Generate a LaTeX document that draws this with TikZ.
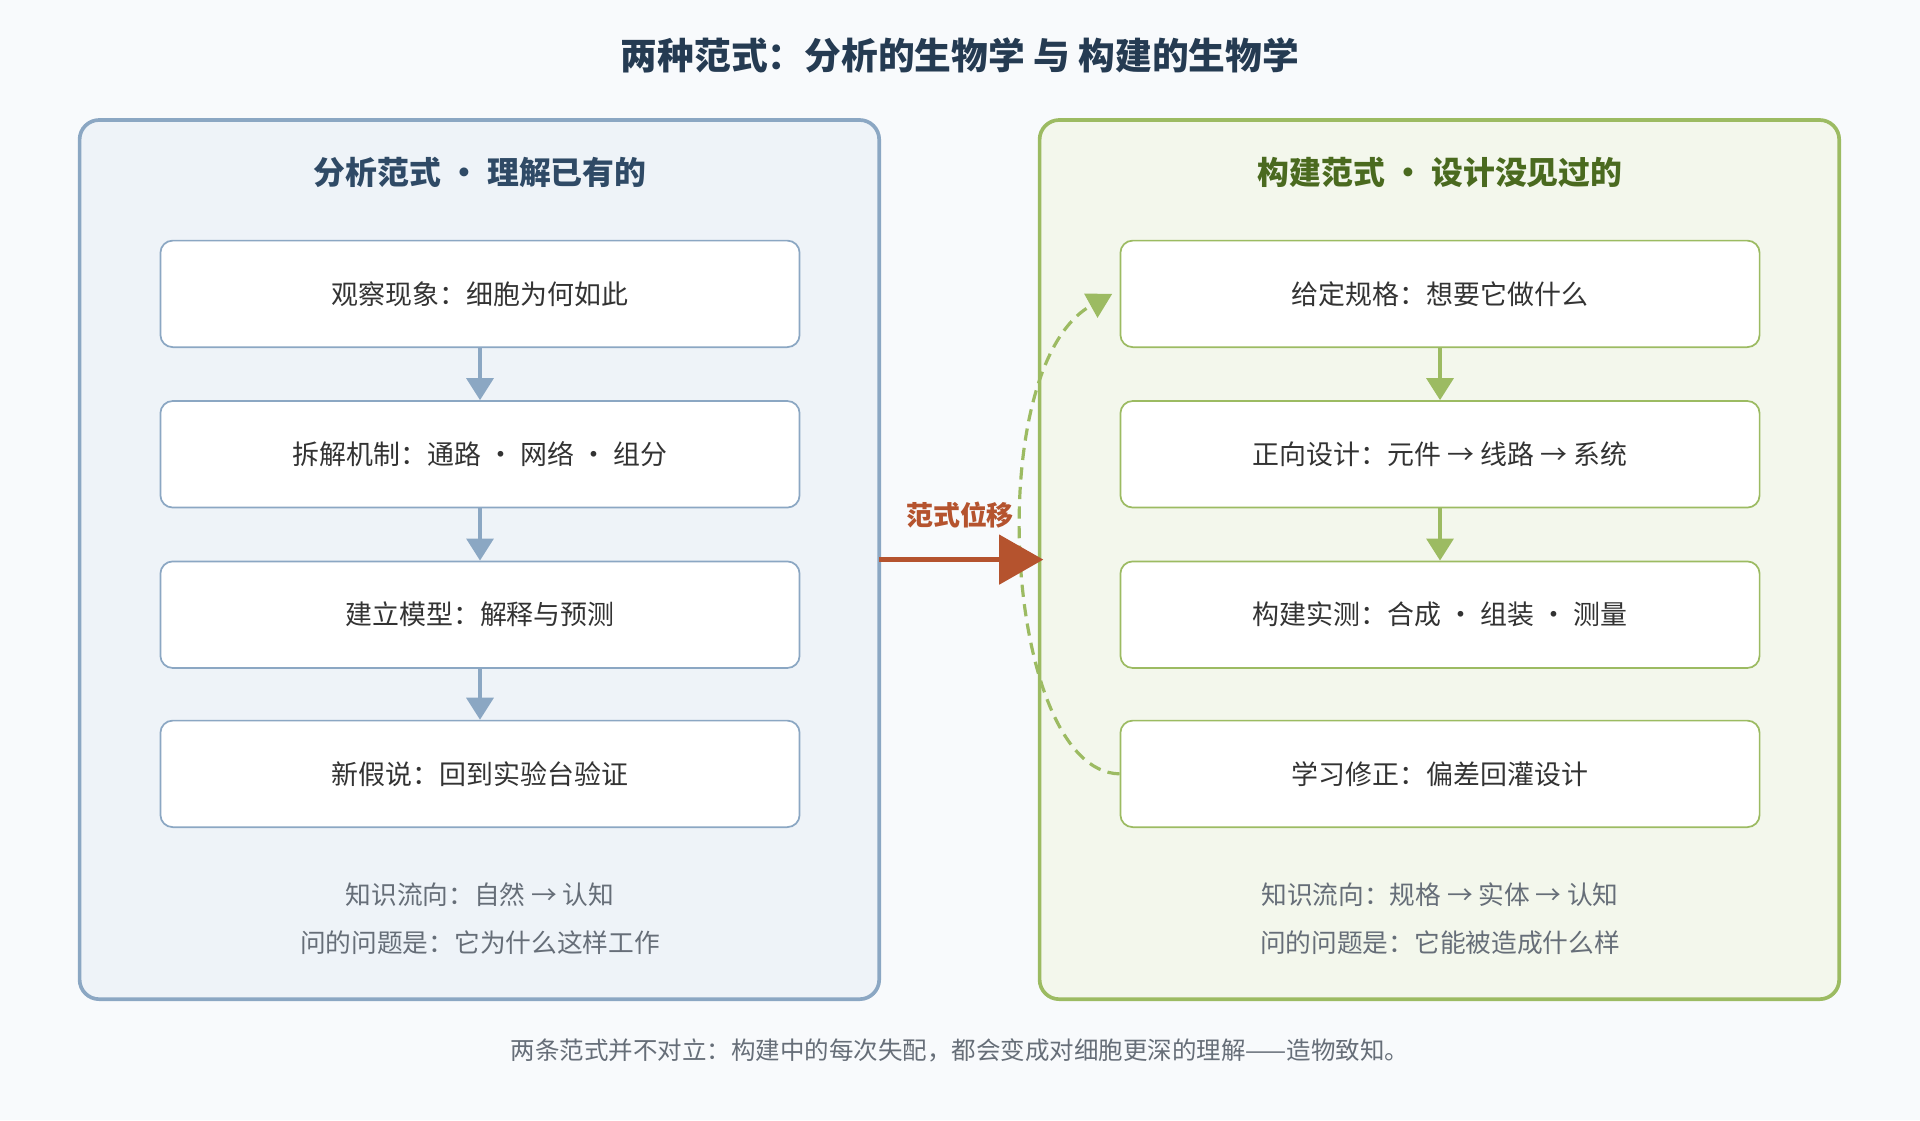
\documentclass[tikz,border=0pt]{standalone}
\usepackage{fontspec}
\setmainfont{Noto Sans CJK SC}
\usetikzlibrary{positioning,arrows.meta}
\definecolor{bluebd}{HTML}{8BA7C3}
\definecolor{bluebg}{HTML}{EEF3F8}
\definecolor{bluetx}{HTML}{2F4A66}
\definecolor{greenbd}{HTML}{9CBB62}
\definecolor{greenbg}{HTML}{F3F7EC}
\definecolor{greentx}{HTML}{4A6A1F}
\definecolor{shiftcol}{HTML}{B5532E}
\definecolor{graytx}{HTML}{666E78}
\definecolor{pagebg}{HTML}{F8FAFC}
\tikzset{font=\fontsize{11pt}{13pt}\selectfont}

\begin{document}
\begin{tikzpicture}[x=0.5pt,y=-0.5pt]
	\tikzstyle{panel}=[rounded corners=8pt, line width=1.5pt]
	\tikzstyle{stage}=[draw, fill=white, rounded corners=5pt, line width=0.7pt, minimum width=261pt, minimum height=43.5pt, text=black!80]
	\tikzstyle{note}=[text=graytx, font=\fontsize{10.5pt}{12pt}\selectfont]
	\fill[pagebg] (0,0) rectangle (1568,915);
	\useasboundingbox (0,0) rectangle (1568,915);

	\node[font=\bfseries\fontsize{15pt}{17pt}\selectfont, text=bluetx!80!black] (title) at (784,45) {两种范式：分析的生物学 与 构建的生物学};

	% left panel
	\draw[panel, draw=bluebd, fill=bluebg] (65,98) rectangle (718,816);
	\node[font=\bfseries\fontsize{13pt}{15pt}\selectfont, text=bluetx] (lhead) at (392,141) {分析范式 • 理解已有的};
	\node[stage, draw=bluebd] (l1) at (392,240) {观察现象：细胞为何如此};
	\node[stage, draw=bluebd] (l2) at (392,371) {拆解机制：通路 · 网络 · 组分};
	\node[stage, draw=bluebd] (l3) at (392,502) {建立模型：解释与预测};
	\node[stage, draw=bluebd] (l4) at (392,632) {新假说：回到实验台验证};
	\node[note] (lf1) at (392,731) {知识流向：自然 → 认知};
	\node[note] (lf2) at (392,770) {问的问题是：它为什么这样工作};
	\foreach \a/\b in {l1/l2,l2/l3,l3/l4}
		\draw[bluebd, line width=1.5pt, -{Triangle[length=9pt,width=11pt]}] (\a) -- (\b);

	% right panel
	\draw[panel, draw=greenbd, fill=greenbg] (849,98) rectangle (1502,816);
	\node[font=\bfseries\fontsize{13pt}{15pt}\selectfont, text=greentx] (rhead) at (1176,141) {构建范式 • 设计没见过的};
	\node[stage, draw=greenbd] (r1) at (1176,240) {给定规格：想要它做什么};
	\node[stage, draw=greenbd] (r2) at (1176,371) {正向设计：元件 → 线路 → 系统};
	\node[stage, draw=greenbd] (r3) at (1176,502) {构建实测：合成 · 组装 · 测量};
	\node[stage, draw=greenbd] (r4) at (1176,632) {学习修正：偏差回灌设计};
	\node[note] (rf1) at (1176,731) {知识流向：规格 → 实体 → 认知};
	\node[note] (rf2) at (1176,770) {问的问题是：它能被造成什么样};
	\foreach \a/\b in {r1/r2,r2/r3}
		\draw[greenbd, line width=1.5pt, -{Triangle[length=9pt,width=11pt]}] (\a) -- (\b);
	\draw[greenbd, line width=1.3pt, dash pattern=on 5pt off 3pt, -{Triangle[length=10pt,width=11pt]}]
		(r4.west) .. controls (820,630) and (800,300) .. ([xshift=-3pt]r1.west);

	% shift arrow
	\coordinate (sa) at (718,457);
	\coordinate (sb) at (852,457);
	\draw[shiftcol, line width=2pt, -{Triangle[length=18pt,width=20pt]}] (sa) -- (sb);
	\node[font=\bfseries\fontsize{11pt}{13pt}\selectfont, text=shiftcol] (shiftlbl) at (784,421) {范式位移};

	\node[note, font=\fontsize{10pt}{12pt}\selectfont] (caption) at (784,858) {两条范式并不对立：构建中的每次失配，都会变成对细胞更深的理解——造物致知。};
\end{tikzpicture}
\end{document}
